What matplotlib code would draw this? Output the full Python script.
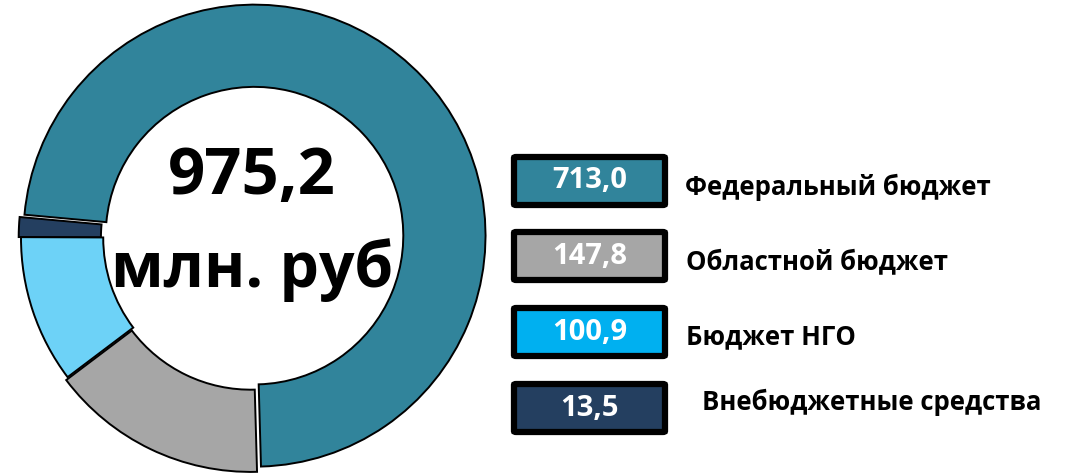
import matplotlib.pyplot as plt
from matplotlib.patches import FancyBboxPatch

plt.rcParams['font.family'] = ['Open Sans', 'DejaVu Sans']

# Data (legend order)
labels = ["Федеральный бюджет", "Областной бюджет", "Бюджет НГО", "Внебюджетные средства"]
values = [713.0, 147.8, 100.9, 13.5]
value_text = ["713,0", "147,8", "100,9", "13,5"]
ring_colors = ["#31849B", "#A6A6A6", "#6DD2F7", "#243F60"]
box_colors = ["#31849B", "#A6A6A6", "#00B0F0", "#243F60"]

fig = plt.figure(figsize=(10.7, 4.75), dpi=100)

# donut: center at (252, 237) px from bottom, outer radius 231 px
W, H = 1070, 475
half = 240
ax = fig.add_axes([(252 - half) / W, (237 - half) / H, 2 * half / W, 2 * half / H])
lim = half / 231
ax.set_aspect('equal')
ax.axis('off')

# ring drawn counterclockwise: federal, extra-budget, NGO, regional
order = [0, 3, 2, 1]
explode = [0.015, 0.01, 0.0, 0.014]
wedges, _ = ax.pie([values[i] for i in order], colors=[ring_colors[i] for i in order],
                   startangle=-88.4, counterclock=True, explode=explode,
                   radius=1.0, wedgeprops=dict(width=0.356, edgecolor='black', linewidth=1.4))
ax.set_xlim(-lim, lim)
ax.set_ylim(-lim, lim)

ax.text(0, 0.26, "975,2", ha='center', va='center', fontsize=47, fontweight='bold', color='black')
ax.text(0, -0.14, "млн. руб", ha='center', va='center', fontsize=45, fontweight='bold', color='black')

# legend boxes
box_y = [181, 256, 332, 408]
text_x = [685, 686, 686, 702]
text_y = [187, 262, 337, 402]
for i in range(4):
    x0, x1 = 514, 665
    yc = H - box_y[i]
    h = 48
    p = FancyBboxPatch((x0 / W, (yc - h / 2) / H), (x1 - x0) / W, h / H,
                       boxstyle="round,pad=0,rounding_size=0.002",
                       transform=fig.transFigure, facecolor=box_colors[i],
                       edgecolor='black', linewidth=4.5)
    fig.patches.append(p)
    fig.text((x0 + x1) / 2 / W, yc / H, value_text[i], ha='center', va='center',
             fontsize=21, fontweight='bold', color='white')
    fig.text(text_x[i] / W, (H - text_y[i]) / H, labels[i], ha='left', va='center',
             fontsize=18.5, fontweight='bold', color='black')

fig.savefig("out.png", dpi=100)
